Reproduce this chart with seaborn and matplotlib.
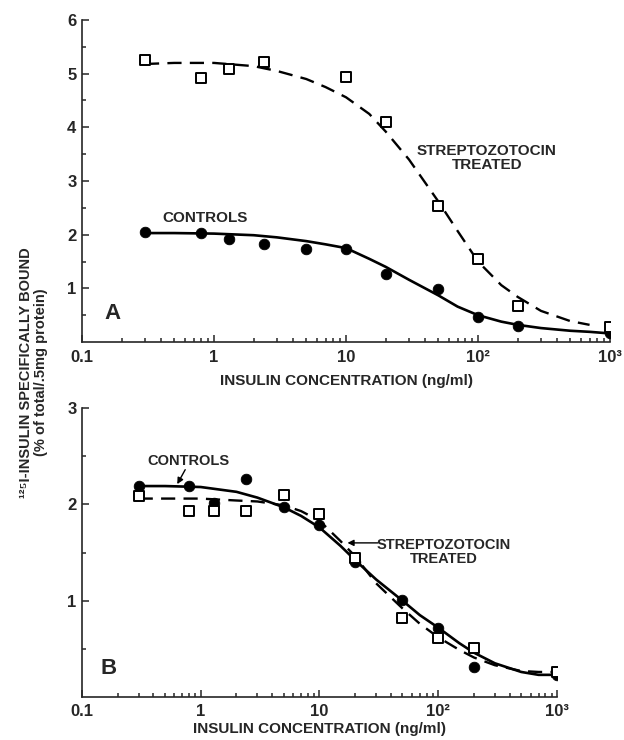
import numpy as np
import matplotlib
matplotlib.use('Agg')
import matplotlib.pyplot as plt
from matplotlib.ticker import LogLocator, FixedLocator, NullFormatter
import seaborn as sns
import pandas as pd

# measured points (ng/ml)
conc = [0.3, 0.8, 1.3, 2.4, 5, 10, 20, 50, 100, 200, 1000]
conc_a_strep = [0.3, 0.8, 1.3, 2.4, 10, 20, 50, 100, 200, 1000]
a_controls = [2.05, 2.03, 1.92, 1.83, 1.73, 1.73, 1.27, 0.99, 0.47, 0.30, 0.16]
a_strep = [5.25, 4.92, 5.08, 5.22, 4.94, 4.10, 2.53, 1.55, 0.67, 0.28]
b_controls = [2.19, 2.19, 2.01, 2.26, 1.97, 1.79, 1.40, 1.01, 0.72, 0.31, 0.23]
b_strep = [2.09, 1.93, 1.93, 1.93, 2.10, 1.90, 1.44, 0.82, 0.61, 0.51, 0.26]

# fitted curves
curve_x = [0.3, 0.5, 1, 2, 3, 5, 7, 10, 15, 20, 30, 50, 70, 100, 150, 200, 300, 500, 700, 1000]
a_controls_fit = [2.03, 2.03, 2.02, 1.99, 1.95, 1.88, 1.82, 1.75, 1.55, 1.40, 1.16, 0.87,
                  0.66, 0.50, 0.38, 0.32, 0.26, 0.21, 0.19, 0.16]
a_strep_fit = [5.18, 5.20, 5.20, 5.14, 5.05, 4.90, 4.75, 4.56, 4.25, 3.92, 3.40, 2.62,
               2.07, 1.50, 1.06, 0.84, 0.58, 0.39, 0.32]
b_controls_fit = [2.19, 2.19, 2.18, 2.13, 2.07, 1.97, 1.88, 1.76, 1.57, 1.42, 1.22, 1.00,
                  0.85, 0.72, 0.56, 0.46, 0.35, 0.26, 0.23, 0.23]
b_strep_fit = [2.06, 2.06, 2.06, 2.04, 2.03, 1.99, 1.93, 1.83, 1.62, 1.46, 1.18, 0.92,
               0.76, 0.62, 0.49, 0.41, 0.33, 0.27, 0.26, 0.26]

xticks = [0.1, 1, 10, 100, 1000]
xticklabels = ['0.1', '1', '10', '10²', '10³']

sns.set_style('ticks')
plt.rcParams['font.family'] = ['Liberation Sans', 'DejaVu Sans']
plt.rcParams['font.weight'] = 'bold'

fig = plt.figure(figsize=(6.24, 7.4), dpi=100)
ax_a = fig.add_axes([0.1314, 0.5378, 0.8462, 0.4352])
ax_b = fig.add_axes([0.1314, 0.0581, 0.7612, 0.3905])

dash = (0, (6, 3.5))
arrow = dict(arrowstyle='-|>', color='black', lw=1, mutation_scale=9, shrinkA=0, shrinkB=0)


def draw(ax, xs_c, yc, xs_s, ys, fit_c, fit_s, ymax, xpad, lpad):
    fc = pd.DataFrame({'x': curve_x[:len(fit_c)], 'y': fit_c})
    fs = pd.DataFrame({'x': curve_x[:len(fit_s)], 'y': fit_s})
    sns.lineplot(data=fc, x='x', y='y', ax=ax, color='black', lw=1.9, errorbar=None)
    sns.lineplot(data=fs, x='x', y='y', ax=ax, color='black', lw=1.7, errorbar=None, linestyle=dash)
    sns.scatterplot(x=xs_c, y=yc, ax=ax, color='black', s=58, marker='o', edgecolor='black', zorder=4)
    sns.scatterplot(x=xs_s, y=ys, ax=ax, marker='s', s=42, facecolor='white',
                    edgecolor='black', linewidth=1.4, zorder=5)
    ax.set_xscale('log')
    ax.set_xlim(0.1, 1000)
    ax.set_ylim(0, ymax)
    ax.xaxis.set_major_locator(FixedLocator(xticks))
    ax.set_xticklabels(xticklabels)
    ax.xaxis.set_minor_locator(LogLocator(base=10, subs=np.arange(2, 10)))
    ax.xaxis.set_minor_formatter(NullFormatter())
    ax.set_yticks(range(1, ymax + 1))
    ax.set_yticks(np.arange(0.5, ymax, 1.0), minor=True)
    ax.tick_params(which='both', direction='in', width=1.1, labelsize=12)
    ax.tick_params(which='major', length=5)
    ax.tick_params(which='minor', length=3)
    ax.tick_params(axis='x', pad=xpad)
    ax.tick_params(axis='y', pad=4)
    for sp in ['top', 'right']:
        ax.spines[sp].set_visible(False)
    for sp in ['left', 'bottom']:
        ax.spines[sp].set_linewidth(1.2)
    ax.set_ylabel('')
    ax.set_xlabel('INSULIN CONCENTRATION (ng/ml)', fontsize=11, fontweight='bold', labelpad=lpad)


draw(ax_a, conc, a_controls, conc_a_strep, a_strep, a_controls_fit, a_strep_fit[:19], 6, 6, 6)
draw(ax_b, conc, b_controls, conc, b_strep, b_controls_fit, b_strep_fit, 3, 5, 2.5)

# panel A labels
ax_a.text(0.855, 2.31, 'CONTROLS', ha='center', va='center', fontsize=11, fontweight='bold')
ax_a.text(117, 3.43, 'STREPTOZOTOCIN\nTREATED', ha='center', va='center', fontsize=11,
          fontweight='bold', linespacing=1.05)
ax_a.text(0.169, 0.54, 'A', ha='center', va='center', fontsize=16, fontweight='bold')

# panel B labels
ax_b.text(0.785, 2.45, 'CONTROLS', ha='center', va='center', fontsize=10.5, fontweight='bold')
ax_b.annotate('', xy=(0.634, 2.21), xytext=(0.74, 2.36), arrowprops=arrow)
ax_b.text(111, 1.505, 'STREPTOZOTOCIN\nTREATED', ha='center', va='center', fontsize=10.5,
          fontweight='bold', linespacing=1.05)
ax_b.annotate('', xy=(17.2, 1.60), xytext=(31, 1.60), arrowprops=arrow)
ax_b.text(0.166, 0.30, 'B', ha='center', va='center', fontsize=16, fontweight='bold')

fig.text(0.053, 0.497, '¹²⁵I-INSULIN SPECIFICALLY BOUND\n(% of total/.5mg protein)',
         rotation=90, ha='center', va='center', fontsize=10.5, fontweight='bold',
         linespacing=1.1)

fig.savefig('out.png', dpi=100)
